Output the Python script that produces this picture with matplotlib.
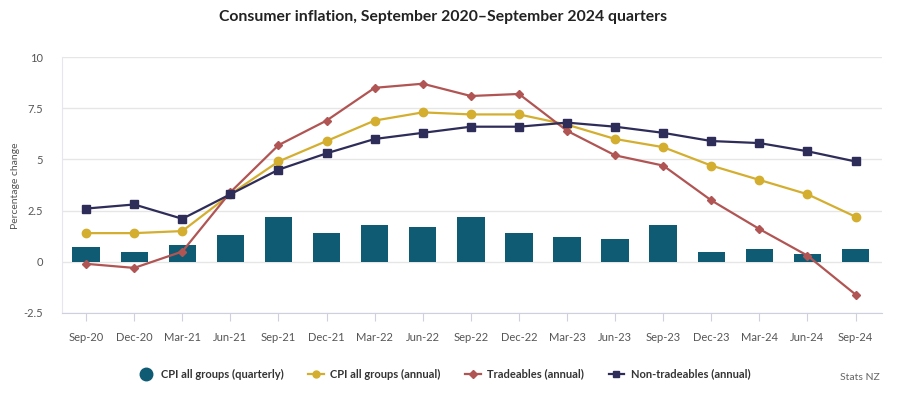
import matplotlib.pyplot as plt
import numpy as np
from matplotlib.lines import Line2D

# --- data ---
quarters = ['Sep-20', 'Dec-20', 'Mar-21', 'Jun-21', 'Sep-21', 'Dec-21', 'Mar-22', 'Jun-22',
            'Sep-22', 'Dec-22', 'Mar-23', 'Jun-23', 'Sep-23', 'Dec-23', 'Mar-24', 'Jun-24', 'Sep-24']
cpi_quarterly = [0.7, 0.5, 0.8, 1.3, 2.2, 1.4, 1.8, 1.7, 2.2, 1.4, 1.2, 1.1, 1.8, 0.5, 0.6, 0.4, 0.6]
cpi_annual = [1.4, 1.4, 1.5, 3.3, 4.9, 5.9, 6.9, 7.3, 7.2, 7.2, 6.7, 6.0, 5.6, 4.7, 4.0, 3.3, 2.2]
tradeables = [-0.1, -0.3, 0.5, 3.4, 5.7, 6.9, 8.5, 8.7, 8.1, 8.2, 6.4, 5.2, 4.7, 3.0, 1.6, 0.3, -1.6]
non_tradeables = [2.6, 2.8, 2.1, 3.3, 4.5, 5.3, 6.0, 6.3, 6.6, 6.6, 6.8, 6.6, 6.3, 5.9, 5.8, 5.4, 4.9]
y_ticks = [-2.5, 0, 2.5, 5, 7.5, 10]
y_tick_labels = ['-2.5', '0', '2.5', '5', '7.5', '10']

plt.rcParams['font.family'] = ['Lato', 'DejaVu Sans']

c_bar = '#0f5b73'
c_yel = '#d4ae2f'
c_red = '#b05553'
c_navy = '#2e2c59'

fig = plt.figure(figsize=(9, 4.08), dpi=100)
ax = fig.add_axes([0.069, 0.233, 0.911, 0.627])

x = np.arange(len(quarters))
ax.bar(x, cpi_quarterly, width=0.57, color=c_bar, zorder=2)
ax.plot(x, cpi_annual, color=c_yel, lw=1.6, marker='o', ms=6, zorder=3)
ax.plot(x, tradeables, color=c_red, lw=1.6, marker='D', ms=4, zorder=4)
ax.plot(x, non_tradeables, color=c_navy, lw=1.6, marker='s', ms=6, zorder=5)

ax.set_xlim(-0.5, 16.55)
ax.set_ylim(-2.5, 10)
ax.set_xticks(x)
ax.set_xticklabels(quarters, fontsize=8, color='#555555')
ax.set_yticks(y_ticks)
ax.set_yticklabels(y_tick_labels, fontsize=8, color='#555555')
ax.tick_params(axis='x', length=6, color='#ccd0e0', pad=8)
ax.tick_params(axis='y', length=0, pad=14)
ax.grid(axis='y', color='#e6e6e6', lw=1, zorder=0)
for s in ['top', 'right']:
    ax.spines[s].set_visible(False)
ax.spines['left'].set_color('#e6e6ee')
ax.spines['bottom'].set_color('#ccd0e0')

fig.text(0.017, 0.545, 'Percentage change', fontsize=7.5, color='#555555',
         rotation=90, ha='center', va='center')

fig.suptitle('Consumer inflation, September 2020\u2013September 2024 quarters',
             x=0.492, y=0.975, fontsize=11.3, fontweight='bold', color='#222222')

# legend
handles = [
    Line2D([], [], ls='none', marker='o', ms=9, color=c_bar),
    Line2D([], [], color=c_yel, lw=1.6, marker='o', ms=5),
    Line2D([], [], color=c_red, lw=1.6, marker='D', ms=4),
    Line2D([], [], color=c_navy, lw=1.6, marker='s', ms=5),
]
labels = ['CPI all groups (quarterly)', 'CPI all groups (annual)',
          'Tradeables (annual)', 'Non-tradeables (annual)']
leg = fig.legend(handles, labels, loc='center', bbox_to_anchor=(0.494, 0.083), ncol=4,
                 frameon=False, fontsize=8, handlelength=1.4, handletextpad=0.6, columnspacing=2.2)
for t in leg.get_texts():
    t.set_fontweight('bold')
    t.set_color('#333333')

fig.text(0.978, 0.075, 'Stats NZ', fontsize=7.5, color='#666666', ha='right', va='center')

fig.savefig('out.png', dpi=100, facecolor='white')
